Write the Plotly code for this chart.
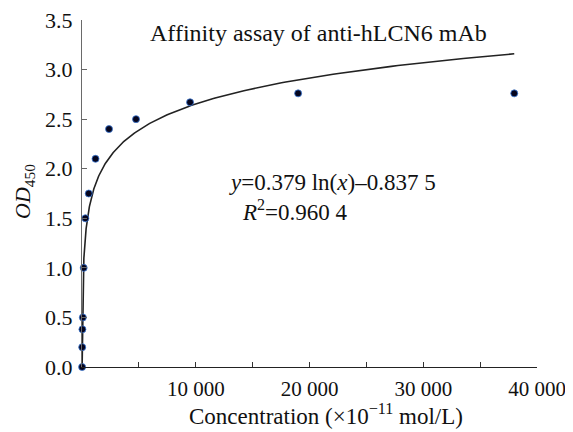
import numpy as np
import plotly.graph_objects as go

# Data
concentration = [9.3, 18.6, 37.1, 74.2, 148.4, 296.9, 593.8, 1187.5, 2375, 4750, 9500, 19000, 38000]
od450 = [0.0, 0.2, 0.38, 0.5, 1.0, 1.5, 1.75, 2.1, 2.4, 2.5, 2.67, 2.76, 2.76]

# Logarithmic fit shown on the chart: y = a ln(x) + b
fit_a = 0.379
fit_b = -0.8375
fit_x_start = 9.1
fit_x_end = 38000

x_tickvals = [10000, 20000, 30000, 40000]
x_ticktext = ["10 000", "20 000", "30 000", "40 000"]
x_minor_tickvals = [5000, 15000, 25000, 35000]
y_tickvals = [0, 0.5, 1.0, 1.5, 2.0, 2.5, 3.0, 3.5]
y_ticktext = ["0.0", "0.5", "1.0", "1.5", "2.0", "2.5", "3.0", "3.5"]

fx = np.geomspace(fit_x_start, fit_x_end, 400)
fy = fit_a * np.log(fx) + fit_b

FONT = "Liberation Serif, Times New Roman, serif"
FS = 22

# page has an 8px body margin; plot area in page pixels: x 82..537, y 20..367
PX0, PX1, PY0, PY1 = 82, 537, 20, 367


def px(x):
    return (x - PX0) / (PX1 - PX0)


def py(y):
    return (PY1 - y) / (PY1 - PY0)


fig = go.Figure()
fig.add_trace(go.Scatter(x=fx, y=fy, mode="lines",
                         line=dict(color="#222222", width=1.6),
                         hoverinfo="skip", showlegend=False, cliponaxis=False))
fig.add_trace(go.Scatter(x=concentration, y=od450, mode="markers",
                         marker=dict(color="#05051e", size=7,
                                     line=dict(color="#3a78d8", width=0.8)),
                         showlegend=False, cliponaxis=False))

fig.update_layout(
    width=565, height=424,
    margin=dict(l=74, r=36, t=12, b=65),
    paper_bgcolor="white", plot_bgcolor="white",
    font=dict(family=FONT, size=FS, color="#111111"),
    xaxis=dict(range=[0, 40000], tickvals=x_tickvals, ticktext=x_ticktext,
               ticks="inside", ticklen=5, tickcolor="#333333",
               minor=dict(tickvals=x_minor_tickvals, ticks="inside", ticklen=5,
                          tickcolor="#333333", showgrid=False),
               showline=True, linecolor="#222222", linewidth=1.2,
               showgrid=False, zeroline=False, automargin=False,
               ticklabelstandoff=3, ticklabeloverflow="allow",
               tickfont=dict(family=FONT, size=21)),
    yaxis=dict(range=[0, 3.5], tickvals=y_tickvals, ticktext=y_ticktext,
               ticks="inside", ticklen=5, tickcolor="#666666",
               showline=True, linecolor="#6a6a6a", linewidth=1.2,
               showgrid=False, zeroline=False, automargin=False,
               ticklabelstandoff=4, ticklabeloverflow="allow",
               tickfont=dict(family=FONT, size=FS)),
    annotations=[
        dict(text="Affinity assay of anti-hLCN6 mAb", xref="paper", yref="paper",
             x=px(318), y=py(33), showarrow=False,
             xanchor="center", yanchor="middle", font=dict(family=FONT, size=24)),
        dict(text="<i>y</i>=0.379 ln(<i>x</i>)\u20130.837 5", xref="paper", yref="paper",
             x=px(227), y=py(182), showarrow=False,
             xanchor="left", yanchor="middle", font=dict(family=FONT, size=23)),
        dict(text="<i>R</i><sup>2</sup>=0.960 4", xref="paper", yref="paper",
             x=px(240), y=py(210), showarrow=False,
             xanchor="left", yanchor="middle", font=dict(family=FONT, size=23)),
        dict(text="<i>OD</i><sub>450</sub>", xref="paper", yref="paper",
             x=px(24), y=py(192), showarrow=False,
             xanchor="center", yanchor="middle", textangle=-90,
             font=dict(family=FONT, size=22)),
        dict(text="Concentration (\u00d710<sup>\u221211</sup> mol/L)", xref="paper", yref="paper",
             x=px(326), y=py(414), showarrow=False,
             xanchor="center", yanchor="middle", font=dict(family=FONT, size=23)),
    ],
)

fig.write_html("out.html")
